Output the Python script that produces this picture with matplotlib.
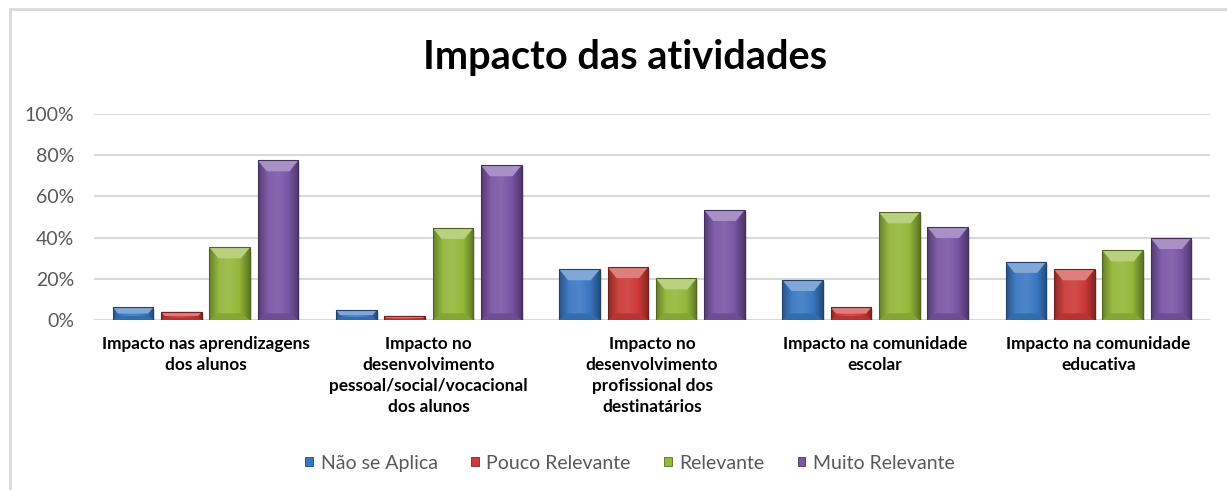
import matplotlib
matplotlib.use("Agg")
import matplotlib.pyplot as plt
import numpy as np
from matplotlib.colors import LinearSegmentedColormap, to_rgb
from matplotlib.patches import Polygon, Rectangle
from matplotlib.lines import Line2D

categories = [
    "Impacto nas aprendizagens\ndos alunos",
    "Impacto no\ndesenvolvimento\npessoal/social/vocacional\ndos alunos",
    "Impacto no\ndesenvolvimento\nprofissional dos\ndestinatários",
    "Impacto na comunidade\nescolar",
    "Impacto na comunidade\neducativa",
]
series_names = ["Não se Aplica", "Pouco Relevante", "Relevante", "Muito Relevante"]
nao_se_aplica = [0.062, 0.047, 0.246, 0.194, 0.282]
pouco_relevante = [0.040, 0.020, 0.257, 0.062, 0.246]
relevante = [0.353, 0.447, 0.202, 0.523, 0.338]
muito_relevante = [0.775, 0.751, 0.534, 0.451, 0.398]
yticks = [0, 0.2, 0.4, 0.6, 0.8, 1.0]
ytick_labels = ["0%", "20%", "40%", "60%", "80%", "100%"]

colors = ["#3a78c3", "#cc3a37", "#93b83a", "#7a56a6"]
values = [nao_se_aplica, pouco_relevante, relevante, muito_relevante]

W, H, DPI = 1227, 490, 100
fig = plt.figure(figsize=(W / DPI, H / DPI), dpi=DPI, facecolor="white")
plt.rcParams["font.family"] = ["Lato", "DejaVu Sans"]

# chart border (only top/left visible in the crop)
fig.add_artist(Line2D([9.5 / W, 9.5 / W], [0, 1 - 9.5 / H], transform=fig.transFigure,
                      color="#d9d9d9", lw=2))
fig.add_artist(Line2D([9.5 / W, 1], [1 - 9.5 / H, 1 - 9.5 / H], transform=fig.transFigure,
                      color="#d9d9d9", lw=2))

ax_l, ax_r, ax_b, ax_t = 94, 1210, 320, 114
ax = fig.add_axes([ax_l / W, 1 - ax_b / H, (ax_r - ax_l) / W, (ax_b - ax_t) / H])
ax.set_xlim(-0.5, len(categories) - 0.5)
ax.set_ylim(0, 1)
ax.set_facecolor("none")
for s in ax.spines.values():
    s.set_visible(False)
ax.set_yticks(yticks)
ax.set_yticklabels(ytick_labels, color="#595959", fontsize=14)
ax.tick_params(axis="y", length=0, pad=14.4)
ax.set_xticks([])
ax.grid(axis="y", color="#d9d9d9", lw=1.5, zorder=0)
ax.set_axisbelow(True)

px_x = (ax_r - ax_l) / len(categories)  # pixels per x unit
px_y = (ax_b - ax_t) / 1.0

x = np.arange(len(categories))
pitch = 0.2165
width = 0.182


def shade(c, f):
    r = np.array(to_rgb(c))
    if f >= 0:
        return tuple(r + (1 - r) * f)
    return tuple(r * (1 + f))


for i, (vals, col) in enumerate(zip(values, colors)):
    bars = ax.bar(x + (i - 1.5) * pitch, vals, width, color=col, zorder=2, lw=0)
    for p in bars:
        bx, bw, bh = p.get_x(), p.get_width(), p.get_height()
        # soft shadow
        ax.add_patch(Rectangle((bx + 2 / px_x, -3 / px_y), bw, bh + 1 / px_y,
                               color="#000000", alpha=0.12, lw=0, zorder=1.5))
        # horizontal gradient body
        cmap = LinearSegmentedColormap.from_list(
            "g", [shade(col, -0.30), shade(col, 0.05), shade(col, 0.10), shade(col, 0.0), shade(col, -0.35)])
        grad = np.linspace(0, 1, 64).reshape(1, -1)
        im = ax.imshow(grad, cmap=cmap, extent=(bx, bx + bw, 0, bh), aspect="auto",
                       zorder=2.1, interpolation="bilinear")
        im.set_clip_path(p)
        # top bevel
        dy = min(11 / px_y, bh / 2)
        ix = min(9 / px_x, bw / 2) * (dy / (11 / px_y))
        top = Polygon([(bx, bh), (bx + bw, bh), (bx + bw - ix, bh - dy), (bx + ix, bh - dy)],
                      closed=True, color=shade(col, 0.35), lw=0, zorder=2.2)
        ax.add_patch(top)
        # bottom bevel (slightly darker)
        bot = Polygon([(bx, 0), (bx + bw, 0), (bx + bw - ix, dy * 0.6), (bx + ix, dy * 0.6)],
                      closed=True, color=shade(col, -0.10), lw=0, zorder=2.2)
        ax.add_patch(bot)
        # edge outline
        ax.add_patch(Rectangle((bx, 0), bw, bh, fill=False, ec=shade(col, -0.45), lw=0.8, zorder=2.3))

ax.set_xlim(-0.5, len(categories) - 0.5)
ax.set_ylim(0, 1)

# category labels
for xi, lab in zip(x, categories):
    ax.text(xi, -16 / px_y, lab, ha="center", va="top", fontsize=12.4, fontweight="bold",
            color="black", linespacing=1.38, transform=ax.transData)

# title
fig.text(625 / W, 1 - 57 / H, "Impacto das atividades", ha="center", va="center",
         fontsize=28.6, fontweight="bold", color="black")

# legend
handles = [Rectangle((0, 0), 1, 1, fc=c, ec=shade(c, -0.4), lw=0.6) for c in colors]
fig.legend(handles, series_names, loc="center", bbox_to_anchor=(630 / W, 1 - 463 / H), ncol=4,
           frameon=False, fontsize=14, labelcolor="#595959", handlelength=0.4, handleheight=0.4,
           handletextpad=0.4, columnspacing=1.7)

fig.savefig("out.png", dpi=DPI, facecolor="white")
